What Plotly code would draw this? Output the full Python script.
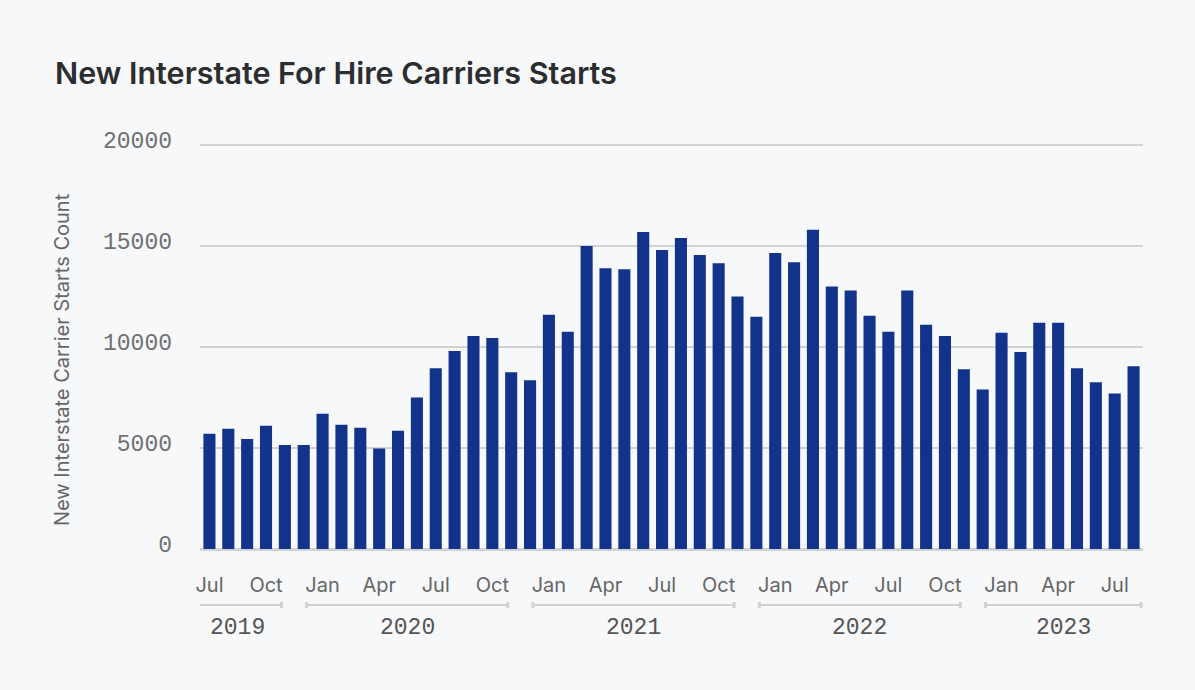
import plotly.graph_objects as go

# Monthly new interstate for-hire carrier starts, Jul 2019 – Aug 2023
years = ["2019", "2020", "2021", "2022", "2023"]
first_month_2019 = 7  # series begins in July 2019
month_names = ["Jan", "Feb", "Mar", "Apr", "May", "Jun",
               "Jul", "Aug", "Sep", "Oct", "Nov", "Dec"]

starts_2019 = [5700, 5950, 5450, 6100, 5150, 5150]
starts_2020 = [6700, 6150, 6000, 4970, 5850, 7500, 8950, 9800, 10550, 10450, 8750, 8350]
starts_2021 = [11600, 10750, 15000, 13900, 13850, 15700, 14800, 15400, 14550, 14150, 12500, 11500]
starts_2022 = [14650, 14200, 15800, 13000, 12800, 11550, 10750, 12800, 11100, 10550, 8900, 7900]
starts_2023 = [10700, 9750, 11200, 11200, 8950, 8250, 7700, 9050]

y_ticks = [0, 5000, 10000, 15000, 20000]
labelled_months = ["Jan", "Apr", "Jul", "Oct"]

# ---- assemble the monthly series ----
groups = [starts_2019, starts_2020, starts_2021, starts_2022, starts_2023]
x_idx, counts, month_lbl, hover = [], [], [], []
group_bounds = []
i = 0
for yr, vals in zip(years, groups):
    start_m = first_month_2019 if yr == "2019" else 1
    first = i
    for k, v in enumerate(vals):
        m = month_names[start_m - 1 + k]
        x_idx.append(i)
        counts.append(v)
        month_lbl.append(m)
        hover.append(f"{m} {yr}")
        i += 1
    group_bounds.append((yr, first, i - 1))

tick_vals = [x for x, m in zip(x_idx, month_lbl) if m in labelled_months]
tick_text = [m for m in month_lbl if m in labelled_months]

BG = "#f7f8fa"
BAR = "#12338a"
GRID = "#d2d2d5"
MONO = "Liberation Mono, DejaVu Sans Mono, monospace"
SANS = "Inter, Roboto, sans-serif"

W, H = 1195, 690
ML, MR, MT, MB = 200, 52, 143, 141
Y_MAX = 20100
plot_w = W - ML - MR
plot_h = H - MT - MB

fig = go.Figure(go.Bar(
    x=x_idx, y=counts,
    marker=dict(color=BAR, line=dict(width=0)),
    hovertext=hover, hoverinfo="text+y",
))

fig.update_layout(
    width=W, height=H,
    margin=dict(l=ML, r=MR, t=MT, b=MB),
    paper_bgcolor=BG, plot_bgcolor=BG,
    bargap=0.36,
    showlegend=False,
    title=dict(
        text="New Interstate For Hire Carriers Starts",
        x=55 / W, xref="container", xanchor="left",
        y=1 - 73 / H, yref="container", yanchor="middle",
        font=dict(family=SANS, size=30.5, color="#2b2d2f", weight=600),
    ),
    xaxis=dict(
        range=[-0.5, len(x_idx) - 0.5],
        tickmode="array", tickvals=tick_vals, ticktext=tick_text,
        tickfont=dict(family=SANS, size=20, color="#666666"),
        ticks="", showgrid=False, zeroline=False, showline=False,
        ticklabelstandoff=22,
    ),
    yaxis=dict(
        range=[0, Y_MAX],
        tickmode="array", tickvals=y_ticks,
        ticktext=[str(v) for v in y_ticks],
        tickfont=dict(family=MONO, size=23, color="#707070"),
        showgrid=True, gridcolor=GRID, gridwidth=2,
        zeroline=True, zerolinecolor=GRID, zerolinewidth=3,
        showline=False, ticks="",
        ticklabelstandoff=27,
        ticklabelshift=-5,
    ),
)

# vertical axis title
fig.add_annotation(
    text="New Interstate Carrier Starts Count",
    xref="paper", yref="paper",
    x=(62 - ML) / plot_w, y=(H - MB - 360) / plot_h,
    xanchor="center", yanchor="middle", textangle=-90, showarrow=False,
    font=dict(family=SANS, size=20, color="#666666"),
)

# year brackets with caps and year labels beneath the month ticks
def paper_y(px):
    return (H - MB - px) / plot_h

bracket_y = paper_y(605)
cap_lo, cap_hi = paper_y(608), paper_y(602)
for n, (yr, first, last) in enumerate(group_bounds):
    x0 = first - 0.85
    x1 = last + 0.4 if n == len(group_bounds) - 1 else last - 1.18
    fig.add_shape(type="line", xref="x", yref="paper",
                  x0=x0, x1=x1, y0=bracket_y, y1=bracket_y,
                  line=dict(color=GRID, width=2))
    for xc in (x0, x1):
        fig.add_shape(type="line", xref="x", yref="paper",
                      x0=xc, x1=xc, y0=cap_lo, y1=cap_hi,
                      line=dict(color=GRID, width=3))
    fig.add_annotation(
        text=yr, xref="x", yref="paper",
        x=(x0 + x1) / 2, y=paper_y(628),
        xanchor="center", yanchor="middle", showarrow=False,
        font=dict(family=MONO, size=23, color="#555555"),
    )

fig.write_html("out.html")
